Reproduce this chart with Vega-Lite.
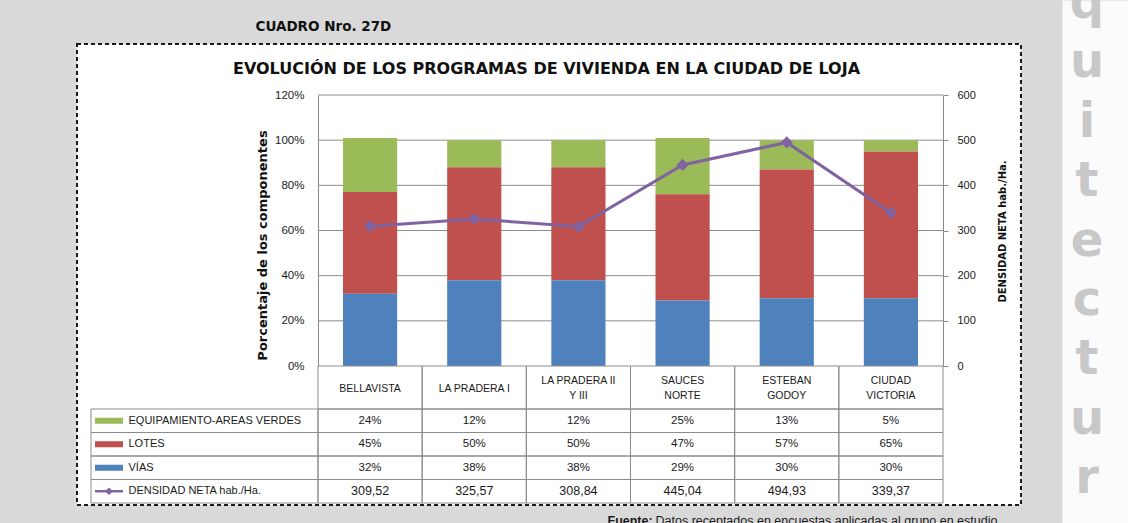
{
  "$schema": "https://vega.github.io/schema/vega-lite/v6.json",
  "width": 625,
  "height": 271,
  "autosize": "none",
  "padding": {"left": 318, "top": 95, "right": 185, "bottom": 157},
  "background": "#d9d9d9",
  "datasets": {
    "componentes": [
      {"programa": "BELLAVISTA", "componente": "EQUIPAMIENTO-AREAS  VERDES", "valor": 0.24},
      {"programa": "BELLAVISTA", "componente": "LOTES", "valor": 0.45},
      {"programa": "BELLAVISTA", "componente": "VÍAS", "valor": 0.32},
      {"programa": "LA PRADERA I", "componente": "EQUIPAMIENTO-AREAS  VERDES", "valor": 0.12},
      {"programa": "LA PRADERA I", "componente": "LOTES", "valor": 0.50},
      {"programa": "LA PRADERA I", "componente": "VÍAS", "valor": 0.38},
      {"programa": "LA PRADERA II Y III", "componente": "EQUIPAMIENTO-AREAS  VERDES", "valor": 0.12},
      {"programa": "LA PRADERA II Y III", "componente": "LOTES", "valor": 0.50},
      {"programa": "LA PRADERA II Y III", "componente": "VÍAS", "valor": 0.38},
      {"programa": "SAUCES NORTE", "componente": "EQUIPAMIENTO-AREAS  VERDES", "valor": 0.25},
      {"programa": "SAUCES NORTE", "componente": "LOTES", "valor": 0.47},
      {"programa": "SAUCES NORTE", "componente": "VÍAS", "valor": 0.29},
      {"programa": "ESTEBAN GODOY", "componente": "EQUIPAMIENTO-AREAS  VERDES", "valor": 0.13},
      {"programa": "ESTEBAN GODOY", "componente": "LOTES", "valor": 0.57},
      {"programa": "ESTEBAN GODOY", "componente": "VÍAS", "valor": 0.30},
      {"programa": "CIUDAD VICTORIA", "componente": "EQUIPAMIENTO-AREAS  VERDES", "valor": 0.05},
      {"programa": "CIUDAD VICTORIA", "componente": "LOTES", "valor": 0.65},
      {"programa": "CIUDAD VICTORIA", "componente": "VÍAS", "valor": 0.30}
    ],
    "densidad": [
      {"programa": "BELLAVISTA", "densidad": 309.52},
      {"programa": "LA PRADERA I", "densidad": 325.57},
      {"programa": "LA PRADERA II Y III", "densidad": 308.84},
      {"programa": "SAUCES NORTE", "densidad": 445.04},
      {"programa": "ESTEBAN GODOY", "densidad": 494.93},
      {"programa": "CIUDAD VICTORIA", "densidad": 339.37}
    ],
    "rejilla": [
      {"v": 0.2}, {"v": 0.4}, {"v": 0.6}, {"v": 0.8}, {"v": 1.0}, {"v": 1.2}
    ],
    "letras": [
      {"orden": 1, "letra": "q"},
      {"orden": 2, "letra": "u"},
      {"orden": 3, "letra": "i"},
      {"orden": 4, "letra": "t"},
      {"orden": 5, "letra": "e"},
      {"orden": 6, "letra": "c"},
      {"orden": 7, "letra": "t"},
      {"orden": 8, "letra": "u"},
      {"orden": 9, "letra": "r"}
    ]
  },
  "layer": [
    {
      "data": {"name": "densidad"},
      "transform": [{"aggregate": [{"op": "count", "as": "n"}]}],
      "mark": {"type": "rect", "fill": "white", "stroke": "#1a1a1a", "strokeWidth": 2, "strokeDash": [4, 3]},
      "encoding": {
        "x": {
          "datum": 0, "type": "quantitative",
          "scale": {"domain": [0, 1], "range": [-241, 703]},
          "axis": {
            "orient": "top", "zindex": 1, "labels": false, "ticks": false, "domain": false, "grid": false,
            "title": "EVOLUCIÓN DE LOS PROGRAMAS DE VIVIENDA EN LA CIUDAD DE LOJA",
            "titleX": 228, "titleY": -27, "titleAlign": "center", "titleBaseline": "middle",
            "titleFont": "DejaVu Sans", "titleFontSize": 16, "titleFontWeight": "bold", "titleColor": "#111111"
          }
        },
        "x2": {"datum": 1},
        "y": {
          "datum": 0, "type": "quantitative",
          "scale": {"domain": [0, 1], "range": [-51, 410]},
          "axis": {
            "orient": "left", "zindex": 1, "labels": false, "ticks": false, "domain": false, "grid": false,
            "title": "CUADRO  Nro. 27D",
            "titleX": -63, "titleY": -65, "titleAngle": 0, "titleAlign": "left", "titleBaseline": "alphabetic",
            "titleFont": "DejaVu Sans", "titleFontSize": 13.5, "titleFontWeight": "bold", "titleColor": "#111111"
          }
        },
        "y2": {"datum": 1}
      }
    },
    {
      "data": {"name": "letras"},
      "mark": {
        "type": "text", "font": "DejaVu Sans", "fontSize": 48, "fontWeight": "bold",
        "color": "#c8c8c8", "align": "center", "baseline": "alphabetic", "dy": -6
      },
      "encoding": {
        "x": {"datum": 0, "type": "quantitative", "scale": {"domain": [0, 1], "range": [769, 769]}, "axis": null},
        "y": {
          "field": "orden", "type": "ordinal",
          "scale": {"type": "point", "range": [-95, 428], "padding": 0.4},
          "axis": {
            "orient": "right", "offset": 152, "domainWidth": 66, "domainColor": "#fbfbfb",
            "labels": false, "ticks": false, "grid": false, "title": null
          }
        },
        "text": {"field": "letra"}
      }
    },
    {
      "layer": [
        {
          "data": {"name": "rejilla"},
          "mark": {"type": "rule", "color": "#8c8c8c", "strokeWidth": 1},
          "encoding": {
            "y": {
              "field": "v", "type": "quantitative",
              "scale": {"domain": [0, 1.2], "nice": false},
              "axis": {
                "orient": "left", "zindex": 1, "grid": false,
                "values": [0, 0.2, 0.4, 0.6, 0.8, 1, 1.2], "format": ".0%",
                "ticks": false, "tickSize": 0, "labelPadding": 14, "labelFontSize": 11.5,
                "title": "Porcentaje de los componentes",
                "titleX": -56, "titleY": 150, "titleAngle": 270, "titleAlign": "center", "titleBaseline": "middle",
                "titleFont": "DejaVu Sans", "titleFontSize": 13, "titleFontWeight": "bold", "titleColor": "#111111"
              }
            }
          }
        },
        {
          "data": {"name": "componentes"},
          "mark": {"type": "bar"},
          "encoding": {
            "x": {
              "field": "programa", "type": "nominal", "sort": null,
              "scale": {"paddingInner": 0.48, "paddingOuter": 0.24},
              "axis": null
            },
            "y": {"field": "valor", "type": "quantitative", "stack": "zero"},
            "color": {
              "field": "componente", "type": "nominal",
              "scale": {
                "domain": ["EQUIPAMIENTO-AREAS  VERDES", "LOTES", "VÍAS"],
                "range": ["#9bbb59", "#c0504d", "#4f81bd"]
              },
              "legend": null
            },
            "order": {"field": "componente", "sort": "descending"}
          }
        }
      ]
    },
    {
      "data": {"name": "densidad"},
      "mark": {
        "type": "line", "color": "#8064a2", "strokeWidth": 3,
        "point": {"shape": "diamond", "size": 150, "filled": true, "color": "#8064a2", "opacity": 1}
      },
      "encoding": {
        "x": {
          "field": "programa", "type": "nominal", "sort": null,
          "scale": {"paddingInner": 0.48, "paddingOuter": 0.24},
          "axis": {
            "orient": "bottom", "zindex": 1, "labels": false, "ticks": false, "domain": false, "grid": false,
            "title": "Fuente:", "titleX": 289, "titleY": 158, "titleAlign": "left", "titleBaseline": "alphabetic",
            "titleFont": "Liberation Sans", "titleFontSize": 12.5, "titleFontWeight": "bold", "titleColor": "#1a1a1a"
          }
        },
        "y": {
          "field": "densidad", "type": "quantitative",
          "scale": {"domain": [0, 600], "nice": false},
          "axis": {
            "orient": "right", "zindex": 1, "grid": false,
            "values": [0, 100, 200, 300, 400, 500, 600], "format": "d",
            "tickSize": 5, "labelPadding": 9, "labelFontSize": 11,
            "title": "DENSIDAD NETA hab./Ha.",
            "titleX": 59, "titleY": 136, "titleAngle": 270, "titleAlign": "center", "titleBaseline": "middle",
            "titleFont": "DejaVu Sans", "titleFontSize": 10, "titleFontWeight": "bold", "titleColor": "#111111"
          }
        }
      }
    },
    {
      "data": {"name": "densidad"},
      "mark": {"type": "rect", "fill": "transparent", "stroke": "#8c8c8c", "strokeWidth": 1},
      "encoding": {
        "x": {
          "field": "programa", "type": "nominal", "sort": null,
          "scale": {"paddingInner": 0, "paddingOuter": 0},
          "axis": {
            "orient": "bottom", "zindex": 1, "grid": false, "domain": false,
            "ticks": false, "tickSize": 0,
            "labelPadding": 22, "labelBaseline": "middle", "labelAngle": 0,
            "labelOverlap": false, "labelFontSize": 10.5,
            "labelExpr": "indexof(['BELLAVISTA', 'LA PRADERA I'], datum.value) >= 0 ? datum.value : ''",
            "title": null
          }
        },
        "y": {"datum": 0, "type": "quantitative", "scale": {"domain": [0, 1], "range": [271, 314]}, "axis": null},
        "y2": {"datum": 1}
      }
    },
    {
      "layer": [
        {
          "data": {"name": "componentes"},
          "mark": {"type": "rect", "fill": "transparent", "stroke": "#8c8c8c", "strokeWidth": 1},
          "encoding": {
            "x": {
              "field": "programa", "type": "nominal", "sort": null,
              "scale": {"paddingInner": 0, "paddingOuter": 0},
              "axis": {
                "orient": "bottom", "zindex": 1, "grid": false, "domain": false,
                "ticks": false, "tickSize": 0,
                "labelPadding": 14.5, "labelBaseline": "middle", "labelAngle": 0,
                "labelOverlap": false, "labelLineHeight": 15, "labelFontSize": 10.5,
                "labelExpr": "datum.value == 'LA PRADERA II Y III' ? ['LA PRADERA II', 'Y III'] : indexof(['BELLAVISTA', 'LA PRADERA I'], datum.value) >= 0 ? '' : split(datum.value, ' ')",
                "title": null
              }
            },
            "y": {
              "field": "componente", "type": "nominal",
              "scale": {
                "domain": ["EQUIPAMIENTO-AREAS  VERDES", "LOTES", "VÍAS", "DENSIDAD NETA hab./Ha."],
                "range": [314, 408], "paddingInner": 0, "paddingOuter": 0
              },
              "axis": null
            }
          }
        },
        {
          "data": {"name": "densidad"},
          "mark": {"type": "rect", "fill": "transparent", "stroke": "#8c8c8c", "strokeWidth": 1},
          "encoding": {
            "x": {"field": "programa", "type": "nominal", "sort": null},
            "y": {"datum": "DENSIDAD NETA hab./Ha.", "type": "nominal", "axis": null}
          }
        },
        {
          "data": {"name": "componentes"},
          "mark": {"type": "text", "font": "Liberation Sans", "fontSize": 11.5, "color": "#1a1a1a"},
          "encoding": {
            "x": {"field": "programa", "type": "nominal", "sort": null},
            "y": {"field": "componente", "type": "nominal", "axis": null},
            "text": {"field": "valor", "type": "quantitative", "format": ".0%"}
          }
        },
        {
          "data": {"name": "densidad"},
          "mark": {"type": "text", "font": "Liberation Sans", "fontSize": 12.5, "color": "#1a1a1a"},
          "encoding": {
            "x": {"field": "programa", "type": "nominal", "sort": null},
            "y": {"datum": "DENSIDAD NETA hab./Ha.", "type": "nominal", "axis": null},
            "text": {"field": "densidad", "type": "quantitative", "format": ".2f"}
          }
        }
      ]
    },
    {
      "layer": [
        {
          "data": {"name": "componentes"},
          "transform": [{"aggregate": [{"op": "count", "as": "n"}], "groupby": ["componente"]}],
          "mark": {"type": "rect", "fill": "transparent", "stroke": "#8c8c8c", "strokeWidth": 1},
          "encoding": {
            "x": {
              "datum": 0, "type": "quantitative",
              "scale": {"domain": [0, 1], "range": [-227, 0]},
              "axis": {
                "orient": "bottom", "zindex": 1, "labels": false, "ticks": false, "domain": false, "grid": false,
                "title": "Datos receptados en encuestas aplicadas al grupo en estudio",
                "titleX": 337, "titleY": 158, "titleAlign": "left", "titleBaseline": "alphabetic",
                "titleFont": "Liberation Sans", "titleFontSize": 12.5, "titleFontWeight": "normal", "titleColor": "#1a1a1a"
              }
            },
            "x2": {"datum": 1},
            "y": {
              "field": "componente", "type": "nominal",
              "scale": {
                "domain": ["EQUIPAMIENTO-AREAS  VERDES", "LOTES", "VÍAS", "DENSIDAD NETA hab./Ha."],
                "range": [314, 408], "paddingInner": 0, "paddingOuter": 0
              },
              "axis": {
                "orient": "left", "offset": 227, "zindex": 1, "grid": false, "domain": false,
                "ticks": false, "tickSize": 0, "labelLimit": 0,
                "labelAlign": "left", "labelPadding": -37, "labelFontSize": 11, "title": null
              }
            }
          }
        },
        {
          "data": {"name": "densidad"},
          "transform": [{"aggregate": [{"op": "count", "as": "n"}]}],
          "mark": {"type": "rect", "fill": "transparent", "stroke": "#8c8c8c", "strokeWidth": 1},
          "encoding": {
            "x": {"datum": 0, "type": "quantitative"},
            "x2": {"datum": 1},
            "y": {"datum": "DENSIDAD NETA hab./Ha.", "type": "nominal"}
          }
        }
      ]
    },
    {
      "layer": [
        {
          "data": {"name": "componentes"},
          "transform": [{"aggregate": [{"op": "count", "as": "n"}], "groupby": ["componente"]}],
          "mark": {"type": "rule", "strokeWidth": 6},
          "encoding": {
            "x": {"datum": 0, "type": "quantitative", "scale": {"domain": [0, 1], "range": [-223, -195]}, "axis": null},
            "x2": {"datum": 1},
            "y": {
              "field": "componente", "type": "nominal",
              "scale": {
                "domain": ["EQUIPAMIENTO-AREAS  VERDES", "LOTES", "VÍAS", "DENSIDAD NETA hab./Ha."],
                "range": [314, 408], "paddingInner": 0, "paddingOuter": 0
              },
              "axis": null
            },
            "color": {
              "field": "componente", "type": "nominal",
              "scale": {
                "domain": ["EQUIPAMIENTO-AREAS  VERDES", "LOTES", "VÍAS"],
                "range": ["#9bbb59", "#c0504d", "#4f81bd"]
              },
              "legend": null
            }
          }
        },
        {
          "data": {"name": "densidad"},
          "transform": [{"aggregate": [{"op": "count", "as": "n"}]}],
          "mark": {"type": "rule", "strokeWidth": 2.5, "color": "#8064a2"},
          "encoding": {
            "x": {"datum": 0, "type": "quantitative", "axis": null},
            "x2": {"datum": 1},
            "y": {"datum": "DENSIDAD NETA hab./Ha.", "type": "nominal", "axis": null}
          }
        },
        {
          "data": {"name": "densidad"},
          "transform": [{"aggregate": [{"op": "count", "as": "n"}]}],
          "mark": {"type": "point", "shape": "diamond", "size": 60, "filled": true, "color": "#8064a2", "opacity": 1},
          "encoding": {
            "x": {"datum": 0.5, "type": "quantitative", "axis": null},
            "y": {"datum": "DENSIDAD NETA hab./Ha.", "type": "nominal", "axis": null}
          }
        }
      ]
    }
  ],
  "resolve": {"scale": {"x": "independent", "y": "independent"}},
  "config": {
    "locale": {"number": {"decimal": ",", "thousands": ".", "grouping": [3], "currency": ["$", ""]}},
    "view": {"fill": null, "stroke": null},
    "axis": {
      "labelFont": "Liberation Sans",
      "labelColor": "#1a1a1a",
      "domainColor": "#8c8c8c",
      "tickColor": "#8c8c8c",
      "domainWidth": 1,
      "tickWidth": 1
    }
  }
}
